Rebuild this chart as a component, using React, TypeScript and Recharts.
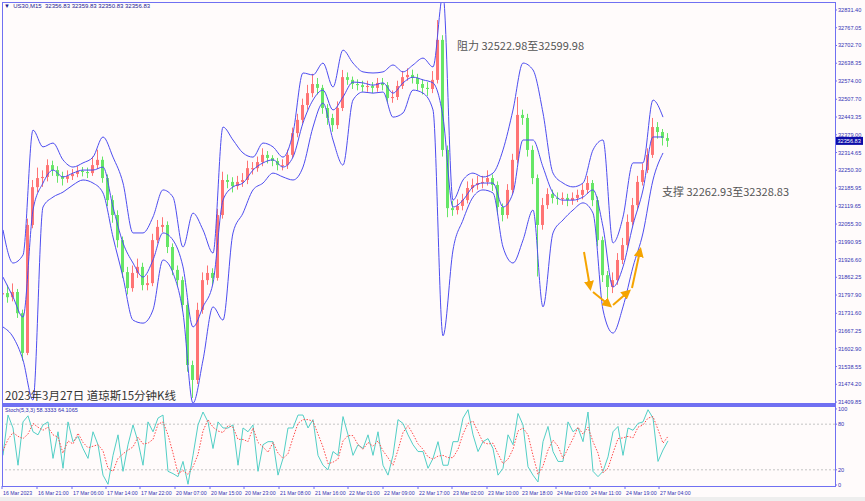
import { ComposedChart, Bar, Line, XAxis, YAxis, ReferenceLine } from 'recharts';

// US30 M15, one entry per ~4.5 bars of the original screen
const opens = [
  31800, 31805, 31790, 31809, 31732, 31588, 32052, 32189, 32222, 32226,
  32269, 32251, 32229, 32219, 32229, 32237, 32248, 32244, 32240, 32269,
  32288, 32222, 32142, 32088, 31997, 31881, 31823, 31878, 31900, 31834,
  31841, 31997, 32045, 32052, 31972, 31889, 31852, 31762, 31544, 31490,
  31744, 31852, 31878, 31860, 32088, 32215, 32208, 32193, 32208, 32215,
  32258, 32258, 32280, 32306, 32295, 32284, 32269, 32269, 32306, 32385,
  32433, 32487, 32530, 32563, 32549, 32476, 32440, 32414, 32476, 32588,
  32578, 32563, 32559, 32552, 32556, 32549, 32567, 32559, 32512, 32516,
  32556, 32588, 32596, 32585, 32563, 32549, 32545, 32578, 32723, 32324,
  32113, 32106, 32121, 32142, 32186, 32197, 32204, 32208, 32222, 32197,
  32117, 32088, 32179, 32288, 32451, 32440, 32324, 32222, 32052, 32124,
  32164, 32150, 32146, 32150, 32142, 32150, 32161, 32179, 32204, 32142,
  31997, 31870, 31827, 31852, 31925, 31979, 32063, 32124, 32208, 32251,
  32306, 32407, 32389, 32367,
];
const closes = [
  31805, 31790, 31809, 31732, 31588, 32052, 32189, 32222, 32226, 32269,
  32251, 32229, 32219, 32229, 32237, 32248, 32244, 32240, 32269, 32288,
  32222, 32142, 32088, 31997, 31881, 31823, 31878, 31900, 31834, 31841,
  31997, 32045, 32052, 31972, 31889, 31852, 31762, 31544, 31490, 31744,
  31852, 31878, 31860, 32088, 32215, 32208, 32193, 32208, 32215, 32258,
  32258, 32280, 32306, 32295, 32284, 32269, 32269, 32306, 32385, 32433,
  32487, 32530, 32563, 32549, 32476, 32440, 32414, 32476, 32588, 32578,
  32563, 32559, 32552, 32556, 32549, 32567, 32559, 32512, 32516, 32556,
  32588, 32596, 32585, 32563, 32549, 32545, 32578, 32723, 32324, 32113,
  32106, 32121, 32142, 32186, 32197, 32204, 32208, 32222, 32197, 32117,
  32088, 32179, 32288, 32451, 32440, 32324, 32222, 32052, 32124, 32164,
  32150, 32146, 32150, 32142, 32150, 32161, 32179, 32204, 32142, 31997,
  31870, 31827, 31852, 31925, 31979, 32063, 32124, 32208, 32251, 32306,
  32407, 32389, 32367, 32357,
];
const highs = [
  31830, 31835, 31840, 31820, 31745, 32075, 32215, 32260, 32250, 32290,
  32285, 32265, 32245, 32250, 32255, 32265, 32262, 32260, 32300, 32325,
  32300, 32235, 32160, 32105, 32010, 31900, 31905, 31930, 31915, 31870,
  32020, 32070, 32080, 32065, 31985, 31905, 31865, 31775, 31560, 31770,
  31880, 31905, 31895, 32110, 32245, 32235, 32225, 32230, 32240, 32285,
  32280, 32300, 32330, 32320, 32305, 32295, 32290, 32325, 32405, 32455,
  32510, 32560, 32600, 32585, 32560, 32490, 32455, 32500, 32614, 32605,
  32590, 32580, 32575, 32575, 32570, 32585, 32585, 32570, 32540, 32575,
  32610, 32620, 32615, 32600, 32580, 32570, 32610, 32795, 32740, 32340,
  32140, 32145, 32165, 32210, 32220, 32230, 32230, 32250, 32235, 32210,
  32130, 32200, 32310, 32516, 32470, 32455, 32340, 32235, 32150, 32185,
  32180, 32170, 32170, 32165, 32170, 32180, 32200, 32230, 32215, 32155,
  32010, 31885, 31880, 31950, 32005, 32090, 32150, 32230, 32275, 32330,
  32440, 32425, 32400, 32385,
];
const lows = [
  31780, 31770, 31775, 31715, 31560, 31580, 32040, 32170, 32190, 32210,
  32230, 32205, 32195, 32205, 32215, 32225, 32228, 32222, 32230, 32255,
  32205, 32120, 32060, 31970, 31860, 31800, 31810, 31860, 31815, 31815,
  31830, 31985, 32025, 31950, 31870, 31830, 31740, 31520, 31425, 31475,
  31730, 31835, 31835, 31850, 32075, 32185, 32170, 32180, 32190, 32200,
  32235, 32245, 32265, 32275, 32265, 32250, 32250, 32255, 32295, 32370,
  32420, 32470, 32515, 32525, 32455, 32415, 32390, 32400, 32465, 32560,
  32545, 32540, 32535, 32535, 32530, 32535, 32540, 32495, 32495, 32505,
  32545, 32575, 32565, 32540, 32525, 32520, 32530, 32565, 32300, 32080,
  32085, 32090, 32105, 32130, 32170, 32180, 32185, 32195, 32175, 32090,
  32065, 32075, 32165, 32275, 32415, 32300, 32200, 31865, 32035, 32110,
  32130, 32125, 32125, 32120, 32125, 32135, 32145, 32165, 32120, 31975,
  31845, 31780, 31805, 31835, 31910, 31965, 32050, 32110, 32195, 32240,
  32295, 32365, 32340, 32335,
];

// bollinger lines, one value every second candle
const bandUpper = [
  32034, 31914, 31943, 32396, 32335, 32349, 32288, 32262, 32277, 32298,
  32371, 32298, 32204, 32023, 32023, 32081, 32179, 32153, 31972, 32095,
  32034, 31950, 32407, 32360, 32313, 32298, 32349, 32335, 32298, 32385,
  32603, 32596, 32639, 32552, 32686, 32639, 32607, 32603, 32607, 32632,
  32607, 32632, 32657, 32625, 32886, 32142, 32215, 32240, 32226, 32240,
  32324, 32469, 32639, 32614, 32458, 32240, 32204, 32190, 32204, 32324,
  32360, 31987, 32081, 32277, 32277, 32505, 32443,
];
const bandMiddle = [
  31863, 31791, 31718, 32106, 32204, 32251, 32226, 32240, 32251, 32251,
  32262, 32117, 31987, 31914, 31863, 31925, 32023, 31997, 31900, 31682,
  31755, 31841, 32142, 32190, 32204, 32251, 32277, 32288, 32262, 32298,
  32422, 32505, 32541, 32469, 32516, 32570, 32567, 32559, 32567, 32530,
  32567, 32588, 32578, 32567, 32443, 32117, 32142, 32190, 32204, 32204,
  32117, 32168, 32360, 32360, 32262, 32168, 32142, 32142, 32153, 32179,
  32045, 31827, 31900, 32052, 32179, 32371, 32371,
];
const bandLower = [
  31682, 31646, 31562, 31417, 32117, 32153, 32171, 32197, 32215, 32204,
  32168, 32008, 31863, 31707, 31696, 31744, 31925, 31878, 31733, 31406,
  31562, 31755, 31707, 32023, 32095, 32179, 32204, 32240, 32226, 32215,
  32262, 32407, 32494, 32360, 32269, 32505, 32534, 32530, 32534, 32443,
  32458, 32541, 32530, 32469, 31650, 31961, 32070, 32153, 32179, 32168,
  31972, 31914, 31997, 32106, 31755, 32023, 32070, 32106, 32132, 32095,
  31744, 31660, 31755, 31900, 32023, 32215, 32313,
];

const stochK = [
  39, 92, 75, 26, 83, 91, 70, 66, 79, 83, 35, 70, 22, 83, 57, 64, 48, 35, 70, 53,
  13, 1, 39, 66, 18, 53, 79, 57, 26, 83, 70, 88, 92, 18, 15, 11, 31, 1, 39, 79,
  96, 83, 48, 83, 75, 75, 79, 26, 75, 70, 79, 18, 53, 57, 57, 13, 35, 75, 75, 92,
  92, 75, 86, 39, 26, 20, 44, 39, 90, 66, 39, 53, 48, 66, 39, 70, 26, 13, 39, 86,
  81, 66, 53, 44, 44, 22, 35, 57, 26, 26, 57, 57, 88, 99, 66, 44, 57, 61, 48, 13,
  22, 66, 53, 94, 79, 24, 13, 4, 57, 77, 44, 31, 31, 83, 70, 75, 57, 96, 18, 11,
  18, 37, 70, 77, 39, 75, 72, 81, 83, 99, 88, 31, 46, 58,
];
const stochD = [
  45, 60, 69, 64, 61, 67, 81, 76, 72, 76, 66, 63, 42, 58, 54, 68, 56, 49, 51, 53,
  45, 22, 18, 35, 41, 46, 50, 63, 54, 55, 60, 80, 83, 66, 42, 15, 19, 14, 24, 40,
  71, 86, 76, 71, 69, 78, 76, 60, 60, 57, 75, 56, 50, 43, 56, 42, 35, 41, 62, 81,
  86, 86, 84, 67, 50, 28, 30, 34, 58, 65, 65, 53, 47, 56, 51, 58, 45, 36, 26, 46,
  69, 78, 67, 54, 47, 37, 34, 38, 39, 36, 36, 47, 67, 81, 84, 70, 56, 54, 55, 41,
  28, 34, 47, 71, 75, 66, 39, 14, 25, 46, 59, 51, 35, 48, 61, 76, 67, 76, 57, 42,
  16, 22, 42, 61, 62, 64, 62, 76, 79, 88, 90, 73, 55, 64,
];

const priceTicks = [
  32831.4, 32767.05, 32702.7, 32638.35, 32574.0, 32507.7, 32443.35, 32379.0,
  32314.65, 32250.3, 32185.95, 32119.65, 32055.3, 31990.95, 31926.6, 31862.25,
  31797.9, 31731.6, 31667.25, 31602.9, 31538.55, 31474.2, 31409.85,
];
const stochTicks = [0, 20, 80, 100];

const timeLabels = [
  '16 Mar 2023', '16 Mar 21:00', '17 Mar 06:00', '17 Mar 14:00', '17 Mar 22:00',
  '20 Mar 07:00', '20 Mar 15:00', '20 Mar 23:00', '21 Mar 08:00', '21 Mar 16:00',
  '22 Mar 01:00', '22 Mar 09:00', '22 Mar 17:00', '23 Mar 02:00', '23 Mar 10:00',
  '23 Mar 18:00', '24 Mar 03:00', '24 Mar 11:00', '24 Mar 19:00', '27 Mar 04:00',
];
// candle index where each time label sits
const timeTickBars = [
  -0.2, 6.8, 13.8, 20.6, 27.4, 34.4, 41.4, 48.2, 55.2, 62.2,
  69, 76, 83, 89.8, 96.8, 103.6, 110.6, 117.4, 124.4, 131.2,
];

const lastPrice = 32356.83;

const rows = closes.map((c, i) => ({
  i,
  o: opens[i],
  h: highs[i],
  l: lows[i],
  c,
  range: [lows[i], highs[i]],
  bbUp: i % 2 === 0 ? bandUpper[i / 2] ?? null : null,
  bbMid: i % 2 === 0 ? bandMiddle[i / 2] ?? null : null,
  bbLow: i % 2 === 0 ? bandLower[i / 2] ?? null : null,
  k: stochK[i],
  d: stochD[i],
}));

const BLUE = '#4d4df0';
const FRAME = '#7070f2';
const AXIS_TEXT = '#3434b4';
const X_DOMAIN = [-0.2, 166.4];

const Candle = (props: any) => {
  const { x, y, width, height, payload } = props;
  const { o, c, h, l } = payload;
  const top = height < 0 ? y + height : y;
  const hgt = Math.abs(height);
  const cx = x + width / 2;
  const py = (v: number) => top + ((h - v) / (h - l)) * hgt;
  const up = c >= o;
  const color = up ? '#ff7474' : '#66e666';
  const bTop = py(Math.max(o, c));
  const bBot = py(Math.min(o, c));
  return (
    <g>
      <line x1={cx} x2={cx} y1={top} y2={top + hgt} stroke={color} strokeWidth={1} />
      <rect x={cx - 1.5} y={bTop} width={3} height={Math.max(1, bBot - bTop)} fill={color} />
    </g>
  );
};

const PriceTick = ({ x, y, payload }: any) => (
  <text x={x} y={y} dy={2} textAnchor="start" fontSize={5.6} fill={AXIS_TEXT}
    fontFamily="Liberation Sans, Arial, sans-serif">
    {payload.value.toFixed(2)}
  </text>
);

const StochTick = ({ x, y, payload }: any) => (
  <text x={x} y={y} dy={2} textAnchor="start" fontSize={5.6} fill={AXIS_TEXT}
    fontFamily="Liberation Sans, Arial, sans-serif">
    {payload.value}
  </text>
);

const TimeTick = ({ x, y, payload }: any) => {
  const idx = timeTickBars.indexOf(payload.value);
  return (
    <text x={x + 1} y={y} dy={5} textAnchor="start" fontSize={5.2} fill={AXIS_TEXT}
      fontFamily="Liberation Sans, Arial, sans-serif">
      {timeLabels[idx] ?? ''}
    </text>
  );
};

const PriceTag = (props: any) => {
  const vb = props.viewBox || {};
  const x = (vb.x ?? 0) + (vb.width ?? 0) + 1;
  const y = vb.y ?? 0;
  return (
    <g>
      <rect x={x} y={y - 4} width={27} height={8} fill="#0c0ca8" />
      <text x={x + 1.5} y={y + 2} fontSize={5.6} fill="#ffffff"
        fontFamily="Liberation Sans, Arial, sans-serif">
        {lastPrice.toFixed(2)}
      </text>
    </g>
  );
};

const textCjk = 'Noto Sans CJK SC, sans-serif';

export default function App() {
  return (
    <div style={{ position: 'absolute', left: 0, top: 0, width: 865, height: 501, background: '#fffbfb', overflow: 'hidden' }}>
      <div style={{ position: 'absolute', left: 0, top: 0 }}>
        <ComposedChart width={865} height={406} data={rows} margin={{ top: 2, right: 0, left: 2, bottom: 2 }}>
          <XAxis dataKey="i" type="number" domain={X_DOMAIN} allowDataOverflow hide />
          <YAxis orientation="right" width={30} domain={[31402.8, 32860.4]} allowDataOverflow
            ticks={priceTicks} interval={0} tick={<PriceTick />} tickSize={2} tickMargin={1}
            tickLine={{ stroke: FRAME }} axisLine={false} />
          <Bar dataKey="range" barSize={4} shape={<Candle />} isAnimationActive={false} />
          <Line type="monotone" dataKey="bbUp" stroke={BLUE} strokeWidth={1} dot={false} connectNulls isAnimationActive={false} />
          <Line type="monotone" dataKey="bbMid" stroke={BLUE} strokeWidth={1} dot={false} connectNulls isAnimationActive={false} />
          <Line type="monotone" dataKey="bbLow" stroke={BLUE} strokeWidth={1} dot={false} connectNulls isAnimationActive={false} />
          <ReferenceLine y={lastPrice} stroke="none" label={PriceTag} />
        </ComposedChart>
      </div>
      <div style={{ position: 'absolute', left: 0, top: 404 }}>
        <ComposedChart width={865} height={99} data={rows} margin={{ top: 2, right: 0, left: 2, bottom: 2 }}>
          <XAxis dataKey="i" type="number" domain={X_DOMAIN} allowDataOverflow height={15}
            ticks={timeTickBars} interval={0} tick={<TimeTick />} tickSize={3} tickMargin={1}
            tickLine={{ stroke: FRAME }} axisLine={false} />
          <YAxis orientation="right" width={30} domain={[-1.3, 103.9]} allowDataOverflow
            ticks={stochTicks} interval={0} tick={<StochTick />} tickSize={2} tickMargin={1}
            tickLine={{ stroke: FRAME }} axisLine={false} />
          <ReferenceLine y={80} stroke="#c4c4c4" strokeDasharray="2 2" />
          <ReferenceLine y={20} stroke="#c4c4c4" strokeDasharray="2 2" />
          <Line dataKey="k" stroke="#52cfc6" strokeWidth={1} dot={false} isAnimationActive={false} />
          <Line dataKey="d" stroke="#ff4a4a" strokeWidth={1} strokeDasharray="1.5 1.5" dot={false} isAnimationActive={false} />
        </ComposedChart>
      </div>

      {/* panel frames */}
      <div style={{ position: 'absolute', left: 2, top: 2, width: 834, height: 403, boxSizing: 'border-box', border: `1px solid ${FRAME}`, pointerEvents: 'none' }} />
      <div style={{ position: 'absolute', left: 2, top: 403, width: 834, height: 3, background: FRAME, pointerEvents: 'none' }} />
      <div style={{ position: 'absolute', left: 2, top: 406, width: 834, height: 81, boxSizing: 'border-box', border: `1px solid ${FRAME}`, pointerEvents: 'none' }} />
      <div style={{ position: 'absolute', left: 0, top: 497, width: 865, height: 4, background: '#eeeeee' }} />

      {/* header texts */}
      <div style={{ position: 'absolute', left: 4, top: 3, fontSize: 6, color: '#1a1a90', fontFamily: 'Liberation Sans, Arial, sans-serif', whiteSpace: 'pre' }}>
        {'\u25BC  US30,M15  32356.83 32359.83 32350.83 32356.83'}
      </div>
      <div style={{ position: 'absolute', left: 5, top: 407, fontSize: 5.5, color: '#2a2ab0', fontFamily: 'Liberation Sans, Arial, sans-serif', whiteSpace: 'pre' }}>
        {'Stoch(5,3,3) 58.3333 64.1065'}
      </div>

      {/* annotations */}
      <div style={{ position: 'absolute', left: 5, top: 387, fontSize: 11.5, color: '#333', fontFamily: textCjk, whiteSpace: 'nowrap' }}>
        2023年3月27日 道琼斯15分钟K线
      </div>
      <div style={{ position: 'absolute', left: 457, top: 37, fontSize: 11, color: '#555', fontFamily: textCjk, whiteSpace: 'nowrap' }}>
        阻力 32522.98至32599.98
      </div>
      <div style={{ position: 'absolute', left: 662, top: 183, fontSize: 11, color: '#555', fontFamily: textCjk, whiteSpace: 'nowrap' }}>
        支撑 32262.93至32328.83
      </div>
      <svg width={865} height={501} style={{ position: 'absolute', left: 0, top: 0, pointerEvents: 'none' }}>
        <defs>
          <marker id="ah" markerWidth="5" markerHeight="5" refX="3" refY="2.5" orient="auto" markerUnits="strokeWidth">
            <path d="M0,0 L5,2.5 L0,5 z" fill="#f5a400" />
          </marker>
        </defs>
        <g stroke="#f5a400" strokeWidth={2} fill="none">
          <line x1={584} y1={252} x2={590} y2={287} markerEnd="url(#ah)" />
          <line x1={593} y1={292} x2={609} y2={305} markerEnd="url(#ah)" />
          <line x1={613} y1={305} x2={628} y2={292} markerEnd="url(#ah)" />
          <line x1={632} y1={288} x2={640} y2={251} markerEnd="url(#ah)" />
        </g>
      </svg>
    </div>
  );
}
